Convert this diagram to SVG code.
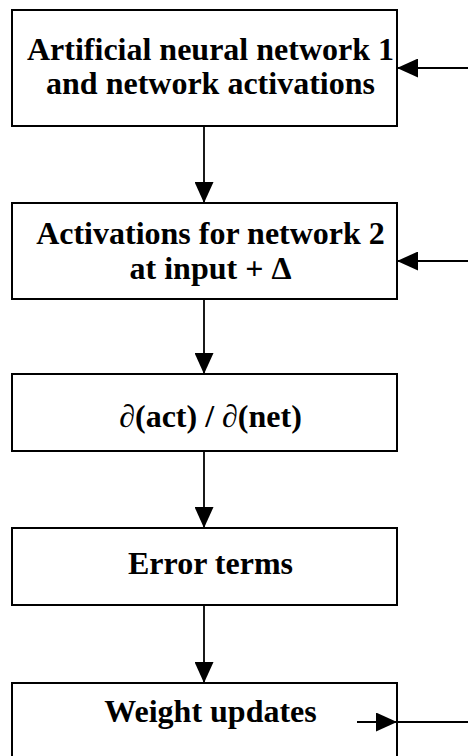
<svg xmlns="http://www.w3.org/2000/svg" width="468" height="756" viewBox="0 0 468 756">
<style>
.box{fill:#fff;stroke:#000;stroke-width:2}
.lbl{font-family:"Liberation Serif","Times New Roman",serif;font-weight:bold;font-size:32px;fill:#000;text-anchor:middle}
.con{stroke:#000;stroke-width:1.8;fill:none}
</style>
<defs>
<marker id="ah" markerUnits="userSpaceOnUse" markerWidth="21" markerHeight="19" refX="21" refY="9.5" orient="auto">
<path d="M0,0 L21,9.5 L0,19 z" fill="#000"/>
</marker>
</defs>
<rect width="468" height="756" fill="#fff"/>
<g id="n1">
<rect class="box" x="12" y="10" width="385" height="116"/>
<text class="lbl" x="210.5" y="60">Artificial neural network 1</text>
<text class="lbl" x="210.5" y="94">and network activations</text>
</g>
<g id="n2">
<rect class="box" x="12" y="203" width="385" height="96"/>
<text class="lbl" x="210.5" y="244">Activations for network 2</text>
<text class="lbl" x="210.5" y="279">at input + Δ</text>
</g>
<g id="n3">
<rect class="box" x="12" y="374" width="385" height="77"/>
<text class="lbl" x="210.5" y="427">∂(act) / ∂(net)</text>
</g>
<g id="n4">
<rect class="box" x="12" y="528" width="385" height="77"/>
<text class="lbl" x="210.5" y="574">Error terms</text>
</g>
<g id="n5">
<rect class="box" x="12" y="683" width="385" height="90"/>
<text class="lbl" x="210.5" y="722">Weight updates</text>
</g>
<g id="connectors">
<line class="con" x1="204" y1="126" x2="204" y2="203" marker-end="url(#ah)"/>
<line class="con" x1="204" y1="299" x2="204" y2="374" marker-end="url(#ah)"/>
<line class="con" x1="204" y1="451" x2="204" y2="528" marker-end="url(#ah)"/>
<line class="con" x1="204" y1="605" x2="204" y2="683" marker-end="url(#ah)"/>
<line class="con" x1="468" y1="68" x2="397" y2="68" marker-end="url(#ah)"/>
<line class="con" x1="468" y1="261" x2="397" y2="261" marker-end="url(#ah)"/>
<line class="con" x1="357" y1="722" x2="397" y2="722" marker-end="url(#ah)"/>
<line class="con" x1="397" y1="722" x2="468" y2="722"/>
</g>
</svg>
